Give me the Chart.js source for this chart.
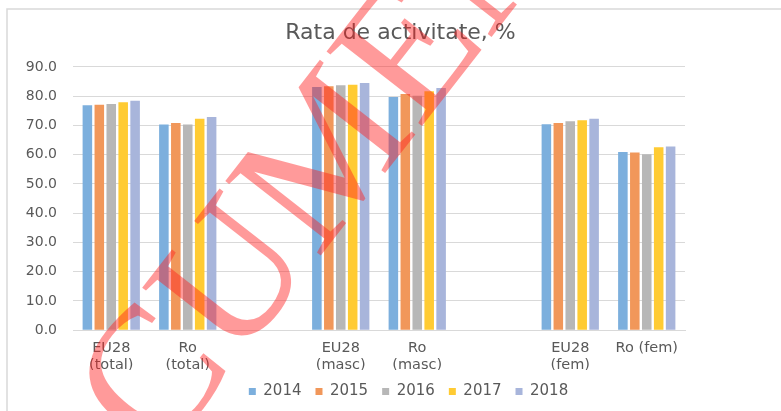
<!DOCTYPE html>
<html>
<head>
<meta charset="utf-8">
<script src="https://cdn.jsdelivr.net/npm/chart.js@4/dist/chart.umd.min.js"></script>
<style>
  html, body { margin: 0; padding: 0; background: #fff; }
  #wrap { width: 781px; height: 411px; position: relative; }
</style>
</head>
<body>
<div id="wrap"><canvas id="myChart"></canvas></div>
<script>
'use strict'
//////////////////
// Data
//////////////////
const categories = [['EU28', '(total)'], ['Ro', '(total)'], '', ['EU28', '(masc)'], ['Ro', '(masc)'], '', ['EU28', '(fem)'], 'Ro (fem)'];
const years = ['2014', '2015', '2016', '2017', '2018'];
const values2014 = [76.9, 70.3, null, 83.1, 79.7, null, 70.4, 60.9];
const values2015 = [77.1, 70.8, null, 83.4, 80.7, null, 70.8, 60.7];
const values2016 = [77.3, 70.3, null, 83.7, 80.1, null, 71.4, 60.1];
const values2017 = [77.9, 72.3, null, 83.9, 81.7, null, 71.8, 62.5];
const values2018 = [78.4, 72.9, null, 84.5, 82.8, null, 72.3, 62.8];
const yTicks = [0, 10, 20, 30, 40, 50, 60, 70, 80, 90];

const seriesValues = [values2014, values2015, values2016, values2017, values2018];
const seriesColors = ['#7cafdd', '#f1975a', '#b7b7b7', '#ffcb33', '#a8b5db'];
const textColor = '#595959';
const gridColor = '#d9d9d9';

//////////////////
// Plugins
//////////////////
// white page + chart frame (the frame runs off the right/bottom edge)
const framePlugin = {
  id: 'frame',
  beforeDraw(chart) {
    const ctx = chart.ctx;
    ctx.save();
    ctx.fillStyle = '#fff';
    ctx.fillRect(0, 0, chart.width, chart.height);
    ctx.strokeStyle = gridColor;
    ctx.lineWidth = 1.5;
    ctx.strokeRect(7, 9, chart.width + 20, chart.height + 20);
    ctx.restore();
  }
};

// title and legend sit further right than the plot centre
const shiftBoxes = {
  id: 'shiftBoxes',
  afterLayout(chart) {
    chart.legend.left += 66;
    chart.legend.right += 66;
    chart.titleBlock.left += 58;
    chart.titleBlock.right += 58;
  }
};

// red diagonal watermark over the chart
const watermark = {
  id: 'watermark',
  afterDraw(chart) {
    const ctx = chart.ctx;
    const fs = 185;
    ctx.save();
    ctx.font = fs + 'px "Liberation Serif"';
    const s = ctx.measureText('DOC').width + ctx.measureText('U').width / 2;
    ctx.translate(190, 245);
    ctx.rotate(-52 * Math.PI / 180);
    ctx.fillStyle = 'rgba(255, 30, 30, 0.45)';
    ctx.fillText('DOCUMENT', -s, fs * 0.33);
    ctx.restore();
  }
};

//////////////////
// Chart
//////////////////
const datasets = [];
for (let i = 0; i < years.length; i++) {
  datasets.push({
    label: years[i],
    data: seriesValues[i],
    backgroundColor: seriesColors[i],
    borderWidth: 0,
    barPercentage: 0.8,
    categoryPercentage: 0.78
  });
}

const config = {
  type: 'bar',
  data: {
    labels: categories,
    datasets: datasets
  },
  options: {
    responsive: true,
    maintainAspectRatio: false,
    animation: false,
    layout: {
      padding: { left: 0, right: 96, top: 0, bottom: 2 }
    },
    plugins: {
      title: {
        display: true,
        text: 'Rata de activitate, %',
        color: textColor,
        font: { family: 'DejaVu Sans', size: 22, weight: 'normal' },
        padding: { top: 20, bottom: 20.5 }
      },
      legend: {
        position: 'bottom',
        labels: {
          boxWidth: 7,
          boxHeight: 7,
          padding: 14,
          color: textColor,
          font: { family: 'DejaVu Sans', size: 15 }
        }
      },
      tooltip: { enabled: false }
    },
    scales: {
      x: {
        grid: { display: false, drawTicks: false },
        border: { color: gridColor, width: 1 },
        afterFit(scale) {
          scale.height -= 13;
        },
        ticks: {
          color: textColor,
          font: { family: 'DejaVu Sans', size: 14.5, lineHeight: 1.2 },
          maxRotation: 0,
          autoSkip: false,
          padding: 9
        }
      },
      y: {
        min: 0,
        max: 90,
        afterBuildTicks(scale) {
          scale.ticks = yTicks.map(v => ({ value: v }));
        },
        afterFit(scale) {
          scale.width = 73;
        },
        grid: { color: gridColor, drawTicks: false },
        border: { display: false },
        ticks: {
          color: textColor,
          font: { family: 'DejaVu Sans', size: 14 },
          padding: 16,
          callback: v => v.toFixed(1)
        }
      }
    }
  },
  plugins: [framePlugin, shiftBoxes, watermark]
};

const canvasChart = document.getElementById('myChart');
const myChart = new Chart(canvasChart, config);
</script>
</body>
</html>
